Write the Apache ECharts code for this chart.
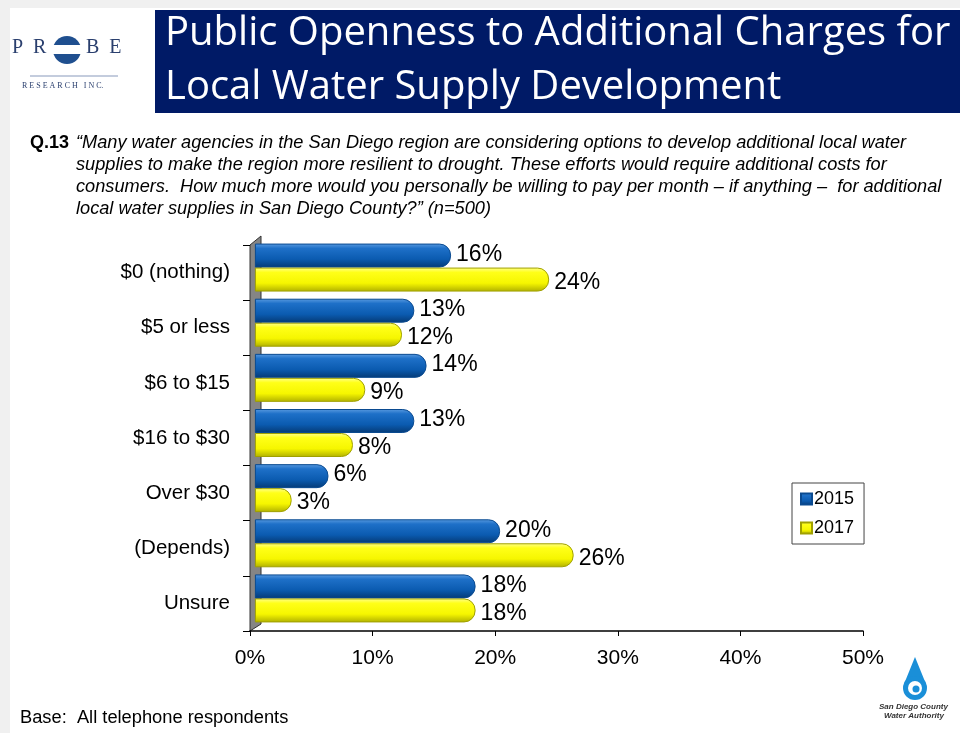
<!DOCTYPE html>
<html>
<head>
<meta charset="utf-8">
<script src="https://cdn.jsdelivr.net/npm/echarts@6/dist/echarts.min.js"></script>
<style>html,body{margin:0;padding:0;background:#fff}#c{width:960px;height:733px}</style>
</head>
<body>
<div id="c"></div>
<script>
const categories = ['$0 (nothing)', '$5 or less', '$6 to $15', '$16 to $30', 'Over $30', '(Depends)', 'Unsure'];
const v2015 = [16, 13, 14, 13, 6, 20, 18];
const v2017 = [24, 12, 9, 8, 3, 26, 18];
const xTicks = [0, 10, 20, 30, 40, 50];
const seriesNames = ['2015', '2017'];

const chart = echarts.init(document.getElementById('c'), null, {renderer: 'canvas'});

const grad = stops => ({type: 'linear', x: 0, y: 0, x2: 0, y2: 1,
  colorStops: stops.map(s => ({offset: s[0], color: s[1]}))});
const blueGrad = grad([[0, '#5a9be0'], [0.2, '#1e70c8'], [0.65, '#0b5bb0'], [1, '#053a75']]);
const yellowGrad = grad([[0, '#ffff90'], [0.2, '#ffff18'], [0.65, '#f6f600'], [1, '#b0b000']]);

const sans = "'Liberation Sans', Arial, sans-serif";
const labelBase = {show: true, position: 'right', distance: 5, fontSize: 23,
  fontFamily: sans, color: '#000', formatter: p => p.value + '%'};

const qLines = [
  '\u201cMany water agencies in the San Diego region are considering options to develop additional local water',
  'supplies to make the region more resilient to drought. These efforts would require additional costs for',
  'consumers.  How much more would you personally be willing to pay per month \u2013 if anything \u2013  for additional',
  'local water supplies in San Diego County?\u201d (n=500)'
];

const txt = (x, y, text, font, fill) => ({type: 'text', x: x, y: y,
  style: {text: text, font: font, fill: fill || '#000', textVerticalAlign: 'top'}});

const graphics = [
  {type: 'rect', shape: {x: 0, y: 0, width: 960, height: 733}, style: {fill: '#f0f0f0'}, z: -10},
  {type: 'rect', shape: {x: 10, y: 8, width: 950, height: 725}, style: {fill: '#ffffff'}, z: -9},
  {type: 'rect', shape: {x: 155, y: 10, width: 805, height: 103}, style: {fill: '#001a66'}, z: -5},
  txt(165, 14, 'Public Openness to Additional Charges for', "40px 'Open Sans', 'Noto Sans', sans-serif", '#fff'),
  txt(165, 68, 'Local Water Supply Development', "40px 'Open Sans', 'Noto Sans', sans-serif", '#fff'),
  // PROBE logo
  txt(12, 38, 'P  R', "20px 'Liberation Serif', serif", '#2a3f6e'),
  txt(86, 38, 'B  E', "20px 'Liberation Serif', serif", '#2a3f6e'),
  {type: 'circle', shape: {cx: 67, cy: 50, r: 14}, style: {fill: '#1f4f8f'}},
  {type: 'rect', shape: {x: 52, y: 45, width: 30, height: 9}, style: {fill: '#ffffff'}},
  {type: 'line', shape: {x1: 30, y1: 76, x2: 118, y2: 76}, style: {stroke: '#8899bb', lineWidth: 1}},
  txt(22, 82, 'R E S E A R C H   I N C.', "8px 'Liberation Serif', serif", '#2a3f6e'),
  // Question
  txt(30, 134, 'Q.13', "bold 18px " + sans)
];
qLines.forEach((t, i) => graphics.push(txt(76, 134 + i * 22, t, "italic 18.2px " + sans)));
graphics.push(
  txt(20, 709, 'Base:  All telephone respondents', "18.3px " + sans),
  // left 3D wall
  {type: 'polygon', shape: {points: [[250, 245], [261, 236], [261, 624], [250, 631]]},
    style: {fill: '#858585', stroke: '#333', lineWidth: 1}, z: 0},
  // SDCWA logo (drop)
  {type: 'polygon', shape: {points: [[915, 657], [904, 684], [926, 684]]}, style: {fill: '#1a8fd8'}},
  {type: 'circle', shape: {cx: 915, cy: 688, r: 12}, style: {fill: '#1a8fd8'}},
  {type: 'circle', shape: {cx: 915, cy: 688, r: 7}, style: {fill: '#ffffff'}},
  {type: 'circle', shape: {cx: 916, cy: 689, r: 3.5}, style: {fill: '#1a8fd8'}},
  txt(879, 703, 'San Diego County', "bold italic 8px " + sans, '#333'),
  txt(884, 712, 'Water Authority', "bold italic 8px " + sans, '#333')
);

chart.setOption({
  animation: false,
  backgroundColor: 'transparent',
  textStyle: {fontFamily: sans},
  grid: [
    {left: 250, right: 97, top: 240, height: 386, containLabel: false},
    {left: 250, right: 97, top: 245, height: 386, containLabel: false}
  ],
  xAxis: [
    {type: 'value', gridIndex: 0, min: -0.4, max: 49.6, show: false},
    {type: 'value', gridIndex: 1, min: 0, max: 50, interval: 10,
      axisLine: {show: true, lineStyle: {color: '#000', width: 1.5}},
      axisTick: {show: true, length: 5, lineStyle: {color: '#000'}},
      splitLine: {show: false},
      axisLabel: {fontSize: 21, color: '#000', margin: 17, formatter: v => xTicks.includes(v) ? v + '%' : ''}}
  ],
  yAxis: [
    {type: 'category', gridIndex: 0, data: categories, inverse: true, show: false},
    {type: 'category', gridIndex: 1, data: categories, inverse: true,
      axisLine: {show: false},
      axisTick: {show: true, length: 7, inside: false, lineStyle: {color: '#000'}},
      axisLabel: {fontSize: 20.5, color: '#000', margin: 20}}
  ],
  legend: {
    data: seriesNames, orient: 'vertical', left: 792, top: 483,
    borderColor: '#444', borderWidth: 1, padding: [7, 10, 7, 8], itemGap: 11,
    itemWidth: 11, itemHeight: 11, icon: 'rect',
    textStyle: {fontSize: 18, color: '#000', padding: [0, 0, 0, -3]}
  },
  graphic: graphics,
  series: [
    {name: seriesNames[0], type: 'bar', xAxisIndex: 0, yAxisIndex: 0, data: v2015, barWidth: 24, barGap: '0%', z: 3,
      itemStyle: {color: blueGrad, borderColor: '#0a4a90', borderWidth: 1, borderRadius: [0, 11, 11, 0]},
      label: Object.assign({}, labelBase, {offset: [0, -1]})},
    {name: seriesNames[1], type: 'bar', xAxisIndex: 0, yAxisIndex: 0, data: v2017, barWidth: 24, z: 3,
      itemStyle: {color: yellowGrad, borderColor: '#a0a000', borderWidth: 1, borderRadius: [0, 11, 11, 0]},
      label: Object.assign({}, labelBase, {offset: [0, 3]})}
  ]
});
</script>
</body>
</html>
